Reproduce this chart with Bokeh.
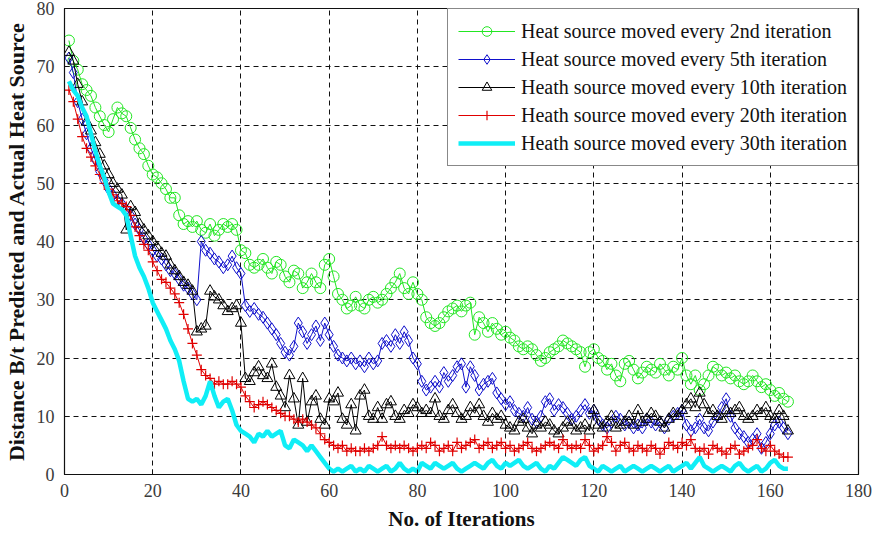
from bokeh.plotting import figure
from bokeh.models import Legend, LegendItem, Range1d, FixedTicker
from bokeh.embed import file_html
from bokeh.resources import INLINE

iterations = list(range(1, 165))

every_2nd = [
    74.5, 71, 69.5, 67, 66, 65, 63, 61.5, 60, 58.8,
    61, 63, 62, 61.5, 59.5, 57.5, 56, 55, 53, 51.5,
    51, 50, 49, 47.5, 47.5, 44.5, 43, 43.5, 42.5, 43.5,
    42, 41.5, 43, 41, 42, 43, 42.5, 43, 42, 38.5,
    38, 36, 35.5, 36, 37, 35.5, 34.5, 36.5, 36, 34,
    33, 35, 34.5, 32, 33, 34.5, 33, 32, 36, 37,
    34, 31, 30, 28.5, 29, 30.5, 29, 28.5, 30, 30.5,
    29.5, 30, 31, 32, 33, 34.5, 32, 31, 33, 31,
    30, 27, 26, 25.5, 26, 27, 28, 28.5, 29, 28,
    29, 29.5, 24, 27, 26, 24.5, 26, 25, 24, 24.5,
    23.5, 23, 22, 21.5, 22, 21.5, 20.5, 19.5, 20, 21,
    21.5, 22, 23, 22.5, 22, 21.5, 21, 18.5, 21, 21.5,
    20, 19.5, 18, 19, 17, 16, 19, 19.5, 18, 16.5,
    17.5, 18.5, 18, 17.5, 19, 18, 17, 18.5, 18, 20,
    17, 15.5, 17, 14.5, 15.5, 17, 18.5, 18, 17, 17.5,
    16.5, 17, 16, 15.5, 16, 17, 16, 15, 15.5, 14.5,
    13.5, 14, 13, 12.5,
]

every_5th = [
    71.5, 69, 64, 61, 58.5, 56, 54, 52, 50.5, 49,
    48, 47, 46.5, 45.5, 44.5, 43, 42, 40.5, 39.5, 38.5,
    37.5, 37, 36, 35, 34.5, 33.5, 32.5, 32, 31, 30,
    40, 38.5, 38, 37, 36.5, 35.5, 36, 37.5, 35.5, 34.5,
    29, 28, 28.5, 27.5, 27, 26, 25, 24, 22.5, 21,
    20.5, 22, 26, 24.5, 22.5, 24, 25.5, 23, 26, 24,
    22, 20.5, 20, 19.5, 20, 19, 19.5, 18.5, 20, 19,
    19.5, 22.5, 23, 22, 24, 22.5, 24.5, 23, 20, 19,
    16, 14.5, 15, 16, 15, 17.5, 16, 17, 18.5, 19,
    15, 18.5, 17, 14.5, 15.5, 16, 16.5, 14, 13, 12,
    12.5, 11, 10.5, 10, 11.5, 9.5, 9, 10, 12.5, 13,
    11, 12, 11.5, 10.5, 9.5, 10, 11, 12, 10.5, 11,
    9.5, 8.5, 8, 9, 10, 9.5, 8.5, 9, 8, 8.5,
    8, 9.5, 9, 8.5, 9, 8, 9.5, 10, 10.5, 11,
    8.5, 7.5, 8, 9.5, 8, 7.5, 9, 10, 11.5, 13,
    10, 8, 7, 6.5, 5.5, 6, 7, 4.5, 5.5, 7,
    8.5, 9, 8, 7,
]

every_10th = [
    72.5, 71, 67, 64, 60.5, 59, 57, 55, 53, 51.5,
    50, 49, 48, 42, 46, 45, 43, 42, 41, 40,
    39, 38, 37.5, 36, 35, 34, 33, 32.5, 31.5, 24.5,
    25, 25.5, 31.5, 30.5, 30, 29, 28, 28.5, 29, 26,
    16.5, 16, 17.5, 18.5, 17, 16.5, 19, 15, 13.5, 11.5,
    17, 13, 8.5, 16.5, 9, 12.5, 13.5, 9.5, 8.5, 13,
    12.5, 14, 9.5, 8.5, 12, 7.5, 13.5, 14.5, 10, 9.5,
    11.5, 9.5, 12, 12.5, 10, 9.5, 11, 10.5, 12, 11.5,
    10.5, 11, 10.5, 13, 10, 9.5, 11, 12, 10.5, 9.5,
    10, 11.5, 10.5, 12, 10, 9, 10.5, 9.5, 10, 8.5,
    8, 7.5, 9, 9.5, 8, 7, 8.5, 8, 9, 8.5,
    7.5, 7, 8, 9, 8.5, 7.5, 8, 8.5, 7.5, 11,
    8.5, 8, 9, 10, 8, 8.5, 9, 10, 8.5, 11,
    9, 9.5, 10.5, 10, 9, 8, 9.5, 10.5, 10, 11,
    12, 13, 11.5, 14, 12, 10.5, 11, 10, 9.5, 11,
    10.5, 11, 11.5, 10, 9.5, 10, 11, 10.5, 11.5, 10,
    9.5, 11, 10, 7.5,
]

every_20th = [
    66, 64, 61, 58, 56, 54.5, 53, 51.5, 50, 49,
    48, 47, 46.5, 46, 44.5, 42.5, 41, 39.5, 38.5, 36.5,
    35, 33.5, 33, 32, 31, 29.5, 27.5, 25, 22.5, 20.5,
    18, 17, 16.5, 15.5, 16, 15.5, 15.5, 16, 15.5, 15,
    13.5, 12.5, 11.5, 12, 12.5, 12, 11.5, 11, 10.5, 10,
    10, 9.5, 9, 9.5, 9, 8.5, 8, 7, 6, 5.5,
    5, 4.5, 5, 4, 4.5, 4, 4, 4.5, 4, 4.5,
    5, 6.5, 5, 4.5, 5, 4.5, 5, 4.5, 4, 4.5,
    5, 4.5, 5.5, 5, 4, 4.5, 5, 4, 5.5, 4.5,
    5, 5.5, 6, 4.5, 5, 5.5, 4.5, 5, 5.5, 4.5,
    5, 4, 4.5, 5, 5.5, 4.5, 4, 4.5, 5, 5.5,
    5, 4.5, 6, 5, 4.5, 5, 4.5, 6, 5, 4,
    4.5, 5, 6.5, 5.5, 4, 5, 5.5, 4.5, 4, 5,
    4.5, 4, 5, 4.5, 3.5, 4.5, 5.5, 5, 4.5, 5.5,
    5, 6, 4.5, 4, 4.5, 3.5, 5, 4.5, 4, 3.5,
    4.5, 5, 3.5, 4, 4.5, 5, 6, 4.5, 4, 5,
    4, 3.5, 3, 3,
]

every_30th = [
    67.5, 66, 65, 63, 61.5, 58.5, 55.5, 53, 51, 48.5,
    46.5, 46, 45.5, 44.5, 41, 37.5, 35.5, 34, 32, 29.5,
    28, 26.5, 25, 23, 21.5, 19.5, 16, 13, 12.5, 13,
    12, 13.5, 16, 13.5, 11.5, 12.5, 13, 11, 8.5, 7.5,
    7, 6.5, 5.5, 7, 6.5, 7.5, 6.5, 7, 7.5, 5,
    4.5, 6, 5.5, 5, 4, 5, 4, 3, 2, 1,
    0.5, 1, 0.5, 1, 1.5, 0.5, 1, 0.5, 1.5, 1,
    0.5, 1, 1.5, 0.5, 1, 2, 1, 0.5, 1, 0.5,
    2, 1.5, 1, 2, 1.5, 1, 1.5, 2, 1, 0.5,
    1, 1.5, 2, 1.5, 1, 2, 2.5, 1.5, 1, 2,
    1.5, 2, 2.5, 1.5, 1, 1.5, 2, 1, 0.5, 1.5,
    1, 2, 3, 2.5, 2, 1.5, 2.5, 3, 1.5, 1,
    0.5, 1.5, 1, 0.5, 1, 1.5, 0.5, 1, 1.5, 1,
    0.5, 1, 1.5, 1, 0.5, 1, 1.5, 0.5, 1, 1.5,
    2, 1, 2, 3, 1.5, 1, 0.5, 1, 1.5, 1,
    0.5, 1.5, 2, 1, 0.5, 1, 1.5, 0.5, 1, 2,
    2.5, 1.5, 1, 1,
]

labels = [
    "Heat source moved every 2nd iteration",
    "Heat source moved every 5th iteration",
    "Heath source moved every 10th iteration",
    "Heath source moved every 20th iteration",
    "Heath source moved every 30th iteration",
]
x_ticks = [0, 20, 40, 60, 80, 100, 120, 140, 160, 180]
y_ticks = [0, 10, 20, 30, 40, 50, 60, 70, 80]
x_title = "No. of Iterations"
y_title = "Distance B/t Predicted and Actual Heat Source"

FONT = "Liberation Serif"

p = figure(width=874, height=536, output_backend="svg", toolbar_location=None,
           x_range=Range1d(0, 180), y_range=Range1d(0, 80),
           min_border_left=63, min_border_right=16, min_border_top=8, min_border_bottom=62)
p.background_fill_color = "white"
p.border_fill_color = "white"
p.outline_line_color = "#111111"
p.outline_line_width = 1.2

for ax in (p.xaxis[0], p.yaxis[0]):
    ax.major_tick_in = 5
    ax.major_tick_out = 0
    ax.minor_tick_line_color = None
    ax.axis_line_color = "#111111"
    ax.major_tick_line_color = "#111111"
    ax.major_label_text_font = FONT
    ax.major_label_text_font_size = "18px"
    ax.major_label_text_color = "#3a3a3a"
    ax.axis_label_text_font = FONT
    ax.axis_label_text_font_style = "bold"
    ax.axis_label_text_color = "#111111"

p.xaxis.ticker = FixedTicker(ticks=x_ticks)
p.yaxis.ticker = FixedTicker(ticks=y_ticks)
p.xaxis.axis_label = x_title
p.yaxis.axis_label = y_title
p.xaxis.axis_label_text_font_size = "21px"
p.yaxis.axis_label_text_font_size = "22px"
p.xaxis.major_label_standoff = 9
p.yaxis.major_label_standoff = 10
p.xaxis.axis_label_standoff = 7
p.yaxis.axis_label_standoff = 5

p.xgrid.ticker = FixedTicker(ticks=x_ticks)
p.ygrid.ticker = FixedTicker(ticks=y_ticks)
for g in (p.xgrid[0], p.ygrid[0]):
    g.grid_line_color = "#111111"
    g.grid_line_dash = "5 4"
    g.grid_line_width = 1

GREEN = "#22e622"
BLUE = "#1010cc"
BLACK = "#000000"
RED = "#e00000"
CYAN = "#10eef6"

items = []
l1 = p.line(iterations, every_2nd, line_color=GREEN, line_width=1)
s1 = p.scatter(iterations, every_2nd, marker="circle", size=11, fill_color=None,
               line_color=GREEN, line_width=1)
items.append(LegendItem(label=labels[0], renderers=[l1, s1]))

l2 = p.line(iterations, every_5th, line_color=BLUE, line_width=1)
s2 = p.scatter(iterations, every_5th, marker="diamond", size=12, fill_color=None,
               line_color=BLUE, line_width=1)
items.append(LegendItem(label=labels[1], renderers=[l2, s2]))

l3 = p.line(iterations, every_10th, line_color=BLACK, line_width=1)
s3 = p.scatter(iterations, every_10th, marker="triangle", size=11, fill_color=None,
               line_color=BLACK, line_width=1)
items.append(LegendItem(label=labels[2], renderers=[l3, s3]))

l4 = p.line(iterations, every_20th, line_color=RED, line_width=1)
s4 = p.scatter(iterations, every_20th, marker="cross", size=10,
               line_color=RED, line_width=1.2)
items.append(LegendItem(label=labels[3], renderers=[l4, s4]))

l5 = p.line(iterations, every_30th, line_color=CYAN, line_width=4.5)
items.append(LegendItem(label=labels[4], renderers=[l5]))

legend = Legend(items=items, location="top_right", margin=0, padding=10, spacing=4,
                glyph_width=57, glyph_height=24, label_height=24, label_standoff=6,
                label_text_font=FONT, label_text_font_size="20px", label_text_color="#111111",
                border_line_color="#111111", border_line_width=1.2,
                background_fill_color="white", background_fill_alpha=1)
p.add_layout(legend, "center")

open("out.html", "w").write(file_html(p, INLINE))
